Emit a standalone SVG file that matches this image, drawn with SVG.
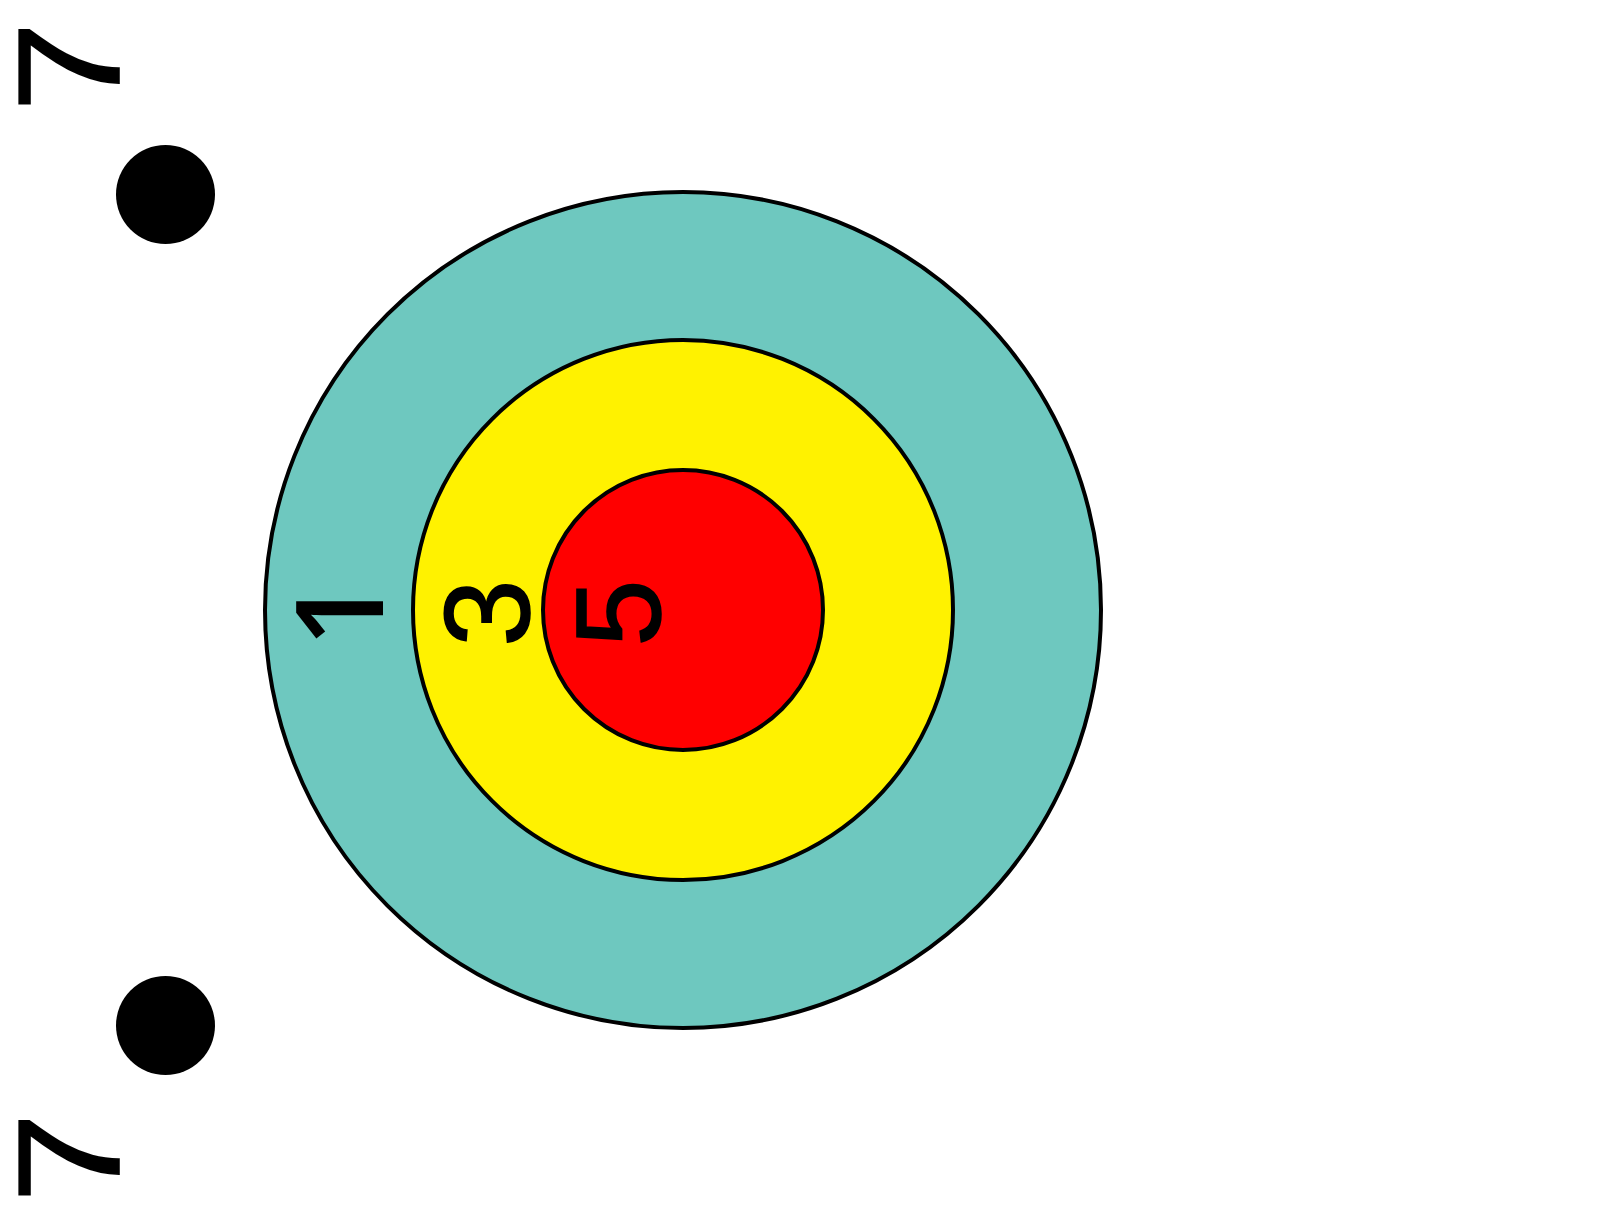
<svg xmlns="http://www.w3.org/2000/svg" width="1614" height="1213" viewBox="0 0 1614 1213">
<style>
.ring{stroke:#000;stroke-width:4}
.lbl{font-family:"Liberation Sans",Arial,sans-serif;fill:#000;stroke:#000;stroke-width:1.6}
</style>
<rect width="1614" height="1213" fill="#fff"/>
<g id="ring-outer">
<circle class="ring" cx="683" cy="610" r="418" fill="#6EC8BF"/>
</g>
<g id="ring-middle">
<circle class="ring" cx="683" cy="610" r="270" fill="#FFF200"/>
</g>
<g id="ring-inner">
<circle class="ring" cx="683" cy="610" r="140" fill="#FF0000"/>
</g>
<g id="label-1"><text class="lbl" style="font-family:'Open Sans',sans-serif;font-weight:600;stroke-width:0" font-size="121" text-anchor="middle" transform="translate(383,613) rotate(-90)">1</text></g>
<g id="label-3"><text class="lbl" font-size="121" text-anchor="middle" transform="translate(528.5,613) rotate(-90)">3</text></g>
<g id="label-5"><text class="lbl" font-size="121" text-anchor="middle" transform="translate(659.5,613) rotate(-90)">5</text></g>
<g id="dot-top"><circle cx="165.5" cy="194.5" r="49.5" fill="#000"/></g>
<g id="dot-bottom"><circle cx="165.5" cy="1025.5" r="49.5" fill="#000"/></g>
<g id="label-7-top"><text class="lbl" font-size="145" transform="translate(118.5,112) rotate(-90) scale(1.12,1)">7</text></g>
<g id="label-7-bottom"><text class="lbl" font-size="145" transform="translate(118.5,1203) rotate(-90) scale(1.12,1)">7</text></g>
<g id="connectors"></g>
</svg>
